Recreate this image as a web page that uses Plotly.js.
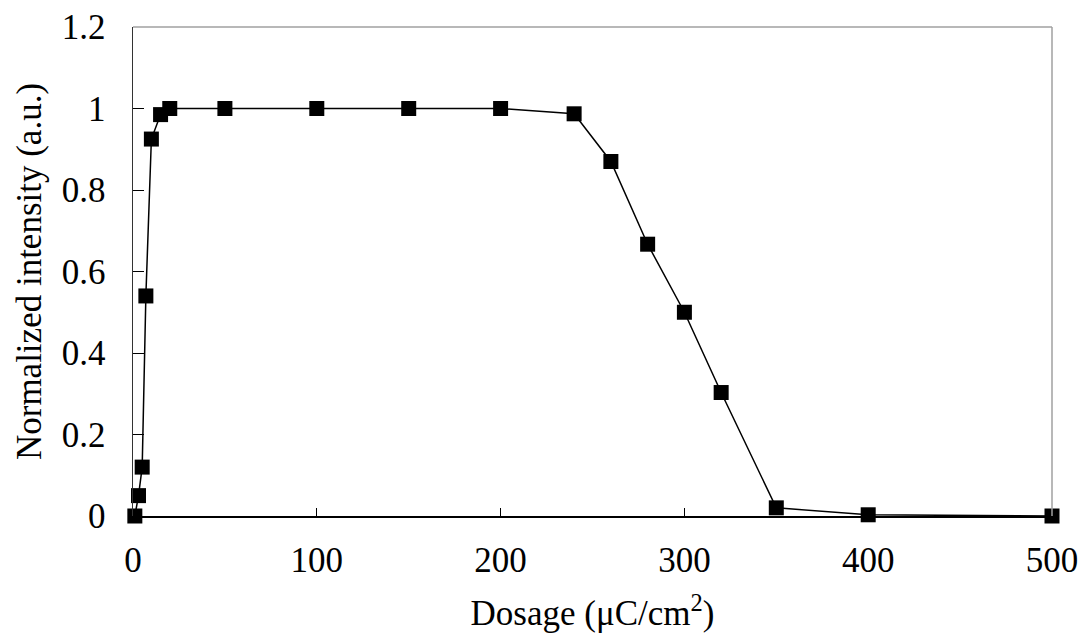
<!DOCTYPE html>
<html>
<head>
<meta charset="utf-8">
<script src="https://cdn.plot.ly/plotly-3.0.1.min.js"></script>
<style>
html,body{margin:0;padding:0;background:#fff;}
#chart{width:1084px;height:639px;}
</style>
</head>
<body>
<div id="chart"></div>
<script>
const dosage = [1, 3, 5, 7, 10, 15, 20, 50, 100, 150, 200, 240, 260, 280, 300, 320, 350, 400, 500];
const intensity = [0, 0.05, 0.12, 0.54, 0.925, 0.985, 1, 1, 1, 1, 1, 0.987, 0.87, 0.667, 0.5, 0.303, 0.02, 0.003, 0];
const xTicks = [0, 100, 200, 300, 400, 500];
const yTicks = [0, 0.2, 0.4, 0.6, 0.8, 1, 1.2];
const yTickText = ['0', '0.2', '0.4', '0.6', '0.8', '1', '1.2'];
const xTitle = 'Dosage (μC/cm<sup>2</sup>)';
const yTitle = 'Normalized intensity (a.u.)';

const font = {family: '"Liberation Serif", "Times New Roman", serif', size: 35, color: '#000'};

const trace = {
  x: dosage, y: intensity, type: 'scatter', mode: 'lines+markers',
  line: {color: '#000', width: 1.5},
  marker: {symbol: 'square', size: 15, color: '#000'},
  cliponaxis: false,
  hoverinfo: 'x+y'
};

const layout = {
  width: 1084, height: 639,
  margin: {l: 133, r: 32, t: 27, b: 123},
  paper_bgcolor: '#fff', plot_bgcolor: '#fff',
  font: font,
  showlegend: false,
  xaxis: {
    range: [0, 500], tickvals: xTicks, ticktext: xTicks.map(String),
    ticks: 'inside', ticklen: 8, tickcolor: '#000', tickwidth: 1,
    showline: true, linecolor: '#000', linewidth: 1.5,
    showgrid: false, zeroline: false,
    tickfont: font, ticklabelstandoff: 12,
    title: {text: xTitle, font: font, standoff: 22}
  },
  yaxis: {
    range: [0, 1.2], tickvals: yTicks, ticktext: yTickText,
    ticks: 'inside', ticklen: 11, tickcolor: '#000', tickwidth: 1,
    showline: true, linecolor: '#333', linewidth: 1.5,
    showgrid: false, zeroline: false,
    tickfont: font, ticklabelstandoff: 19,
    title: {text: yTitle, font: font, standoff: 9}
  },
  shapes: [
    {type: 'line', xref: 'paper', yref: 'paper', x0: 0, x1: 1, y0: 1, y1: 1, line: {color: '#a0a0a0', width: 1.5}},
    {type: 'line', xref: 'paper', yref: 'paper', x0: 1, x1: 1, y0: 0, y1: 1, line: {color: '#a0a0a0', width: 1.5}}
  ]
};

Plotly.newPlot('chart', [trace], layout, {displayModeBar: false, staticPlot: true});
</script>
</body>
</html>
